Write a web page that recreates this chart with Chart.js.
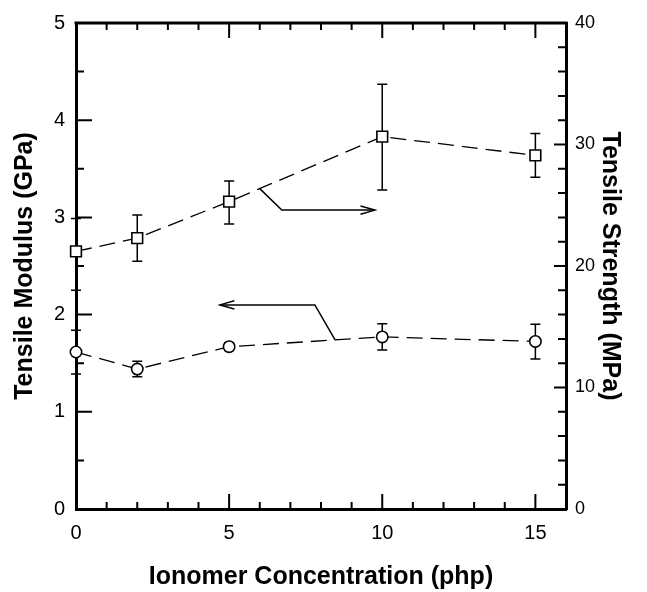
<!DOCTYPE html>
<html><head><meta charset="utf-8">
<script src="https://cdn.jsdelivr.net/npm/chart.js@4.4.0/dist/chart.umd.min.js"></script>
<style>html,body{margin:0;padding:0;background:#fff;}</style>
</head><body>
<canvas id="c" width="647" height="592" style="display:block;width:647px;height:592px"></canvas>
<script>
// ---- data ----
const concentration = [0, 2, 5, 10, 15];
const strength      = [21.2, 22.3, 25.3, 30.65, 29.1];   // MPa (right axis)
const strengthHigh  = [23.9, 24.2, 27.0, 34.96, 30.9];
const strengthLow   = [18.0, 20.4, 23.45, 26.26, 27.3];
const modulus       = [1.615, 1.44, 1.67, 1.77, 1.724]; // GPa (left axis)
const modulusHigh   = [1.84, 1.52, 1.71, 1.905, 1.90];
const modulusLow    = [1.39, 1.36, 1.63, 1.636, 1.544];
const xTickLabels     = [0, 5, 10, 15];
const leftTickLabels  = [0, 1, 2, 3, 4, 5];
const rightTickLabels = [0, 10, 20, 30, 40];
// annotation arrows, in data units: [x, y] on the given axis
const arrowToLeft  = {axis: 'y',  pts: [[8.46, 1.74], [7.8, 2.10], [4.7, 2.10]]};
const arrowToRight = {axis: 'y2', pts: [[6.0, 26.37], [6.72, 24.6], [9.76, 24.6]]};

const FONT = "'Liberation Sans', Arial, Helvetica, sans-serif";

const errorBars = {
  id: 'errorBars',
  beforeDatasetsDraw(chart) {
    const ctx = chart.ctx, xs = chart.scales.x;
    const sets = [
      {axis: 'y2', hi: strengthHigh, lo: strengthLow},
      {axis: 'y',  hi: modulusHigh,  lo: modulusLow}
    ];
    ctx.save();
    ctx.strokeStyle = '#000';
    ctx.lineWidth = 1.5;
    sets.forEach(s => {
      const ys = chart.scales[s.axis];
      concentration.forEach((c, i) => {
        const px = xs.getPixelForValue(c);
        const t = ys.getPixelForValue(s.hi[i]);
        const b = ys.getPixelForValue(s.lo[i]);
        ctx.beginPath();
        ctx.moveTo(px, t); ctx.lineTo(px, b);
        ctx.moveTo(px - 5, t); ctx.lineTo(px + 5, t);
        ctx.moveTo(px - 5, b); ctx.lineTo(px + 5, b);
        ctx.stroke();
      });
    });
    ctx.restore();
  }
};

const frame = {
  id: 'frame',
  afterDraw(chart) {
    const ctx = chart.ctx, a = chart.chartArea;
    const xs = chart.scales.x, yl = chart.scales.y, yr = chart.scales.y2;
    ctx.save();
    ctx.strokeStyle = '#000';
    // top border
    ctx.lineWidth = 3;
    ctx.beginPath(); ctx.moveTo(a.left - 1.5, a.top); ctx.lineTo(a.right + 1.5, a.top); ctx.stroke();
    ctx.lineWidth = 2;
    ctx.beginPath();
    xs.ticks.forEach(t => {
      const px = xs.getPixelForValue(t.value);
      const len = xTickLabels.includes(t.value) ? 15 : 7;
      ctx.moveTo(px, a.bottom); ctx.lineTo(px, a.bottom - len);
      ctx.moveTo(px, a.top); ctx.lineTo(px, a.top + len);
    });
    yl.ticks.forEach(t => {
      const py = yl.getPixelForValue(t.value);
      const len = leftTickLabels.includes(t.value) ? 16 : 8;
      ctx.moveTo(a.left, py); ctx.lineTo(a.left + len, py);
    });
    yr.ticks.forEach(t => {
      const py = yr.getPixelForValue(t.value);
      const len = rightTickLabels.includes(t.value) ? 12 : 8;
      ctx.moveTo(a.right, py); ctx.lineTo(a.right - len, py);
    });
    ctx.stroke();

    // arrows
    ctx.lineWidth = 1.5;
    [arrowToLeft, arrowToRight].forEach(ar => {
      const ys = chart.scales[ar.axis];
      const p = ar.pts.map(q => [xs.getPixelForValue(q[0]), ys.getPixelForValue(q[1])]);
      ctx.beginPath();
      ctx.moveTo(p[0][0], p[0][1]);
      for (let i = 1; i < p.length; i++) ctx.lineTo(p[i][0], p[i][1]);
      ctx.stroke();
      const e = p[p.length - 1], s = p[p.length - 2];
      const ang = Math.atan2(e[1] - s[1], e[0] - s[0]);
      const L = 15, w = 0.28;
      ctx.beginPath();
      ctx.moveTo(e[0] - L * Math.cos(ang - w), e[1] - L * Math.sin(ang - w));
      ctx.lineTo(e[0], e[1]);
      ctx.lineTo(e[0] - L * Math.cos(ang + w), e[1] - L * Math.sin(ang + w));
      ctx.stroke();
    });
    ctx.restore();
  }
};

const dashed = [16, 8];
new Chart(document.getElementById('c'), {
  type: 'scatter',
  data: {
    datasets: [
      {
        label: 'Tensile Strength',
        yAxisID: 'y2',
        data: concentration.map((c, i) => ({x: c, y: strength[i]})),
        showLine: true, borderColor: '#000', borderWidth: 1.3, borderDash: dashed,
        pointStyle: 'rect', pointRadius: 7.6, pointBorderWidth: 1.6,
        pointBackgroundColor: '#fff', pointBorderColor: '#000', clip: false
      },
      {
        label: 'Tensile Modulus',
        yAxisID: 'y',
        data: concentration.map((c, i) => ({x: c, y: modulus[i]})),
        showLine: true, borderColor: '#000', borderWidth: 1.3, borderDash: dashed,
        pointStyle: 'circle', pointRadius: 5.7, pointBorderWidth: 1.6,
        pointBackgroundColor: '#fff', pointBorderColor: '#000', clip: false
      }
    ]
  },
  options: {
    responsive: false, animation: false, devicePixelRatio: 1,
    layout: {padding: {top: 19, left: 0, right: 0, bottom: 0}},
    plugins: {legend: {display: false}, tooltip: {enabled: false}},
    scales: {
      x: {
        type: 'linear', position: 'bottom', min: 0, max: 16,
        grid: {display: false, drawTicks: false},
        border: {display: true, width: 3, color: '#000'},
        ticks: {stepSize: 1, autoSkip: false, maxRotation: 0, padding: 12, color: '#000',
          font: {family: FONT, size: 20},
          callback: v => xTickLabels.includes(v) ? String(v) : ''},
        title: {display: true, text: 'Ionomer Concentration (php)', color: '#000',
          font: {family: FONT, size: 25, weight: 'bold'}, padding: {top: 0, bottom: 0}},
        afterFit: s => { s.height = 83; }
      },
      y: {
        type: 'linear', position: 'left', min: 0, max: 5,
        grid: {display: false, drawTicks: false},
        border: {display: true, width: 3, color: '#000'},
        ticks: {stepSize: 0.5, autoSkip: false, padding: 11, color: '#000',
          font: {family: FONT, size: 20},
          callback: v => leftTickLabels.includes(v) ? String(v) : ''},
        title: {display: true, text: 'Tensile Modulus (GPa)', color: '#000',
          font: {family: FONT, size: 25, weight: 'bold'}, padding: {top: 10, bottom: 0}},
        afterFit: s => { s.width = 76; }
      },
      y2: {
        type: 'linear', position: 'right', min: 0, max: 40,
        grid: {display: false, drawTicks: false},
        border: {display: true, width: 3, color: '#000'},
        ticks: {stepSize: 2, autoSkip: false, padding: 9, color: '#000',
          font: {family: FONT, size: 18},
          callback: v => rightTickLabels.includes(v) ? String(v) : ''},
        title: {display: true, text: 'Tensile Strength (MPa)', color: '#000',
          font: {family: FONT, size: 25, weight: 'bold'}, padding: {top: 22, bottom: 0}},
        afterFit: s => { s.width = 81; }
      }
    }
  },
  plugins: [errorBars, frame]
});
</script>
</body></html>
